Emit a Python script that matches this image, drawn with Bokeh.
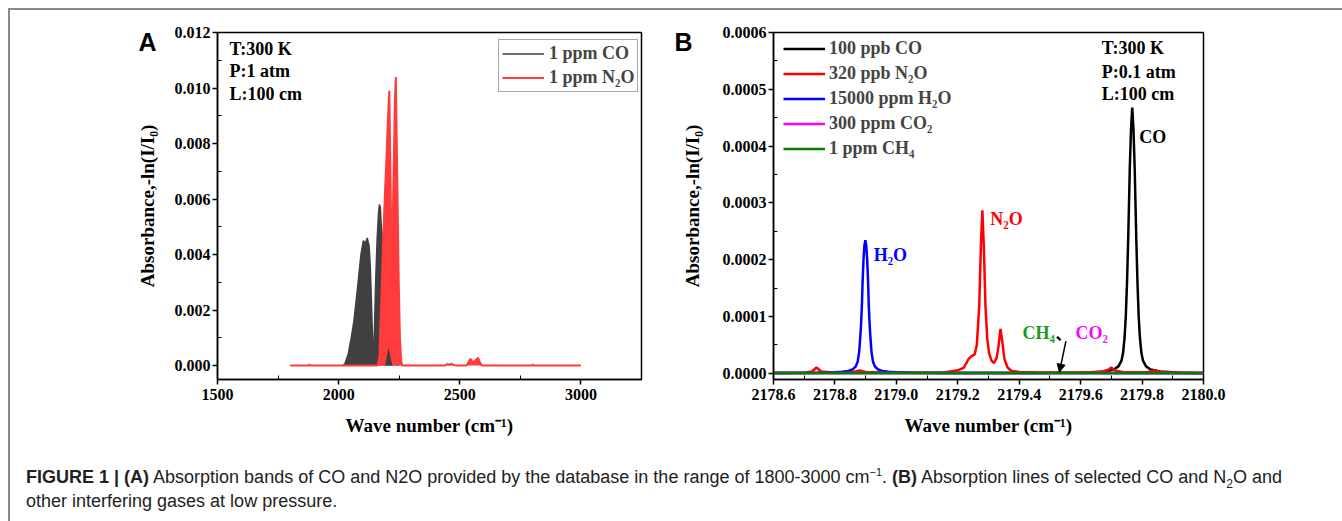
from bokeh.plotting import figure
from bokeh.models import (Range1d, FixedTicker, PrintfTickFormatter, Label, Legend,
                          LegendItem, Arrow, NormalHead, Div, ColumnDataSource, LinearAxis)
from bokeh.layouts import row, column
from bokeh.embed import file_html
from bokeh.resources import INLINE

# ---------------- Panel A data ----------------
a_co_x = [2015, 2025, 2040, 2052, 2063, 2078, 2092, 2102, 2110, 2118, 2126, 2131, 2135, 2140,
          2144, 2147, 2152, 2159, 2164, 2168, 2172, 2176, 2181, 2186, 2190, 2196, 2202, 2210,
          2218, 2228, 2238, 2248]
a_co_y = [0, 0.00005, 0.00043, 0.0010, 0.0016, 0.0028, 0.0040, 0.0045, 0.0044, 0.0046, 0.0043,
          0.0035, 0.0024, 0.0010, 0.0001, 0.0010, 0.0028, 0.0046, 0.0054, 0.0058, 0.0057, 0.0050,
          0.0046, 0.0040, 0.0030, 0.0020, 0.0012, 0.0007, 0.0004, 0.0002, 0.00005, 0]
a_co_hot_x = [2192, 2200, 2206, 2212, 2222]
a_co_hot_y = [0, 0.0004, 0.00066, 0.0004, 0]
a_n2o_x = [1800, 1878, 1880, 1882, 2160, 2168, 2173, 2178, 2184, 2192, 2198, 2203, 2209, 2213,
           2216, 2220, 2224, 2228, 2232, 2236, 2240, 2244, 2248, 2253, 2258, 2262, 2438, 2448,
           2456, 2466, 2476, 2486, 2528, 2544, 2552, 2560, 2576, 2584, 2592, 2798, 2800, 2802, 3000]
a_n2o_y = [0, 0, 0.00006, 0, 0, 0.0003, 0.0016, 0.0028, 0.0046, 0.0064, 0.0076, 0.0088, 0.0099,
           0.0075, 0.0055, 0.0040, 0.0055, 0.0075, 0.0095, 0.0104, 0.0080, 0.0055, 0.0030, 0.0010,
           0.0002, 0, 0, 0.00006, 0.00003, 0.00007, 0.00002, 0, 0, 0.00025, 0.00012, 0.00015,
           0.00028, 0.0001, 0, 0, 0.00006, 0, 0]
a_xticks = [1500, 2000, 2500, 3000]
a_xminor = [1750, 2250, 2750, 3250]
a_yticks = [0.000, 0.002, 0.004, 0.006, 0.008, 0.010, 0.012]
a_yminor = [0.001, 0.003, 0.005, 0.007, 0.009, 0.011]
a_labels = ["1 ppm CO", "1 ppm N\u2082O"]
a_conditions = ["T:300 K", "P:1 atm", "L:100 cm"]

# ---------------- Panel B data (absorbance in units of 1e-6) ----------------
b_co_x = [2178.600, 2179.200, 2179.468, 2179.618, 2179.678, 2179.708, 2179.723, 2179.733,
          2179.738, 2179.743, 2179.747, 2179.751, 2179.755, 2179.760, 2179.764, 2179.768,
          2179.772, 2179.776, 2179.781, 2179.785, 2179.789, 2179.793, 2179.798, 2179.803,
          2179.813, 2179.828, 2179.858, 2179.918, 2180.000]
b_co_u = [0.15, 0.2, 0.4, 1.3, 3, 6.5, 12, 22, 35, 62, 100, 160, 240, 360, 430, 468,
          430, 360, 240, 160, 100, 62, 35, 22, 12, 6.5, 3, 1.3, 0.5]
b_n2o_x = [2178.600, 2178.700, 2178.725, 2178.740, 2178.755, 2178.800, 2178.860, 2178.880,
           2178.900, 2179.000, 2179.100, 2179.150, 2179.200, 2179.220, 2179.235, 2179.245,
           2179.255, 2179.262, 2179.270, 2179.275, 2179.280, 2179.285, 2179.290, 2179.296,
           2179.302, 2179.310, 2179.318, 2179.326, 2179.332, 2179.339, 2179.345, 2179.352,
           2179.362, 2179.375, 2179.400, 2179.450, 2179.550, 2179.660, 2179.690, 2179.700,
           2179.710, 2179.740, 2179.820, 2179.840, 2179.860, 2179.950, 2180.000]
b_n2o_u = [0.5, 1, 3, 10, 3, 1, 2, 5, 2, 1, 1, 1, 5, 10, 25, 30, 33, 50, 120, 220, 287, 220,
           120, 60, 35, 22, 18, 26, 45, 78, 55, 25, 10, 4, 2, 1.5, 0.8, 1.5, 6, 10, 5, 1.5, 2,
           5, 2, 0.5, 0.3]
b_h2o_x = [2178.600, 2178.649, 2178.749, 2178.799, 2178.824, 2178.844, 2178.859, 2178.868,
           2178.874, 2178.879, 2178.882, 2178.885, 2178.888, 2178.890, 2178.893, 2178.896,
           2178.899, 2178.902, 2178.905, 2178.908, 2178.910, 2178.913, 2178.916, 2178.919,
           2178.924, 2178.930, 2178.939, 2178.954, 2178.974, 2178.999, 2179.049, 2179.149,
           2179.400, 2180.000]
b_h2o_u = [0.2, 0.3, 0.8, 1.5, 2.5, 4, 7, 12, 20, 38, 60, 85, 122, 160, 200, 225, 234,
           225, 200, 160, 122, 85, 60, 38, 20, 12, 7, 4, 2.5, 1.5, 0.8, 0.3, 0.15, 0.05]
b_co2_x = [2178.6, 2179.0, 2179.4, 2179.8, 2180.0]
b_co2_u = [0.3, 0.4, 0.5, 0.4, 0.3]
b_ch4_x = [2178.6, 2179.0, 2179.4, 2179.8, 2180.0]
b_ch4_u = [0.2, 0.2, 0.3, 0.2, 0.2]
b_xticks = [2178.6, 2178.8, 2179.0, 2179.2, 2179.4, 2179.6, 2179.8, 2180.0]
b_xminor = [2178.7, 2178.9, 2179.1, 2179.3, 2179.5, 2179.7, 2179.9]
b_yticks = [0.0, 0.0001, 0.0002, 0.0003, 0.0004, 0.0005, 0.0006]
b_yminor = [0.00005, 0.00015, 0.00025, 0.00035, 0.00045, 0.00055]
b_labels = ["100 ppb CO", "320 ppb N\u2082O", "15000 ppm H\u2082O", "300 ppm CO\u2082", "1 ppm CH\u2084"]
b_conditions = ["T:300 K", "P:0.1 atm", "L:100 cm"]
UNIT = 1e-6

SERIF = "Liberation Serif"
SANS = "Liberation Sans"


def style(p, xt, xm, yt, ym, xfmt, yfmt, ylab_standoff):
    p.xaxis.ticker = FixedTicker(ticks=xt, minor_ticks=xm)
    p.yaxis.ticker = FixedTicker(ticks=yt, minor_ticks=ym)
    p.xaxis.formatter = PrintfTickFormatter(format=xfmt)
    p.yaxis.formatter = PrintfTickFormatter(format=yfmt)
    for ax in (p.xaxis[0], p.yaxis[0]):
        ax.axis_line_width = 1.5
        ax.axis_line_color = "black"
        ax.major_tick_line_width = 1.5
        ax.major_tick_line_color = "black"
        ax.minor_tick_line_color = "black"
        ax.minor_tick_line_width = 1
        ax.major_tick_out = 5
        ax.major_tick_in = 0
        ax.minor_tick_out = 0
        ax.minor_tick_in = 4
        ax.major_label_text_font = SERIF
        ax.major_label_text_font_style = "bold"
        ax.major_label_text_font_size = "16px"
        ax.major_label_text_color = "black"
        ax.major_label_standoff = 2
        ax.axis_label_text_font = SERIF
        ax.axis_label_text_font_style = "bold"
        ax.axis_label_text_font_size = "19px"
        ax.axis_label_text_color = "black"
    p.xaxis.major_label_standoff = 4
    p.xaxis.axis_label_standoff = 12
    p.yaxis.axis_label_standoff = ylab_standoff
    p.xaxis.axis_label = "Wave number (cm\u207b\u00b9)"
    p.yaxis.axis_label = "Absorbance,-ln(I/I\u2080)"
    p.xgrid.visible = False
    p.ygrid.visible = False
    p.outline_line_color = "black"
    p.outline_line_width = 1.5
    p.outline_line_alpha = 1


def panel_letter(p, yval, letter, standoff):
    # a bare extra axis whose only tick label is the panel letter
    ax = LinearAxis(ticker=FixedTicker(ticks=[yval], minor_ticks=[]),
                    formatter=PrintfTickFormatter(format=letter),
                    axis_line_color=None, major_tick_line_color=None,
                    minor_tick_line_color=None, major_tick_out=0, major_tick_in=0,
                    minor_tick_out=0, minor_tick_in=0, major_label_standoff=standoff,
                    major_label_text_font=SANS, major_label_text_font_style="bold",
                    major_label_text_font_size="25px", major_label_text_color="black")
    p.add_layout(ax, "left")


def txt(x, y, text, color="black", size="18px", font=SERIF, align="left"):
    return Label(x=x, y=y, text=text, text_font=font, text_font_style="bold",
                 text_font_size=size, text_color=color, text_baseline="middle",
                 text_align=align)


# ---------------- Panel A ----------------
pa = figure(width=660, height=435, min_border_left=207, min_border_right=29,
            min_border_top=22, min_border_bottom=66,
            x_range=Range1d(1500, 3250), y_range=Range1d(-0.0005, 0.012),
            output_backend="svg", toolbar_location=None)
style(pa, a_xticks, a_xminor, a_yticks, a_yminor, "%d", "%.3f", 14)

GRAY = "#404040"
RED = "#ff3b3b"
src_co = ColumnDataSource(dict(x=a_co_x, y=a_co_y))
src_n2o = ColumnDataSource(dict(x=a_n2o_x, y=a_n2o_y))
src_hot = ColumnDataSource(dict(x=a_co_hot_x, y=a_co_hot_y))
pa.varea(x="x", y1=0, y2="y", source=src_co, fill_color=GRAY)
r_co = pa.line(x="x", y="y", source=src_co, line_color=GRAY, line_width=1.5)
pa.varea(x="x", y1=0, y2="y", source=src_n2o, fill_color=RED)
r_n2o = pa.line(x="x", y="y", source=src_n2o, line_color=RED, line_width=2)
pa.varea(x="x", y1=0, y2="y", source=src_hot, fill_color=GRAY)

leg_a = Legend(items=[LegendItem(label=a_labels[0], renderers=[r_co]),
                      LegendItem(label=a_labels[1], renderers=[r_n2o])],
               location=(281, 287), glyph_width=42, glyph_height=21, label_height=21,
               spacing=3, padding=3, margin=0, label_standoff=5,
               label_text_font=SERIF, label_text_font_style="bold",
               label_text_font_size="18px", border_line_color="#505050",
               border_line_width=1.5, background_fill_alpha=1)
pa.add_layout(leg_a)

for cond, yv in zip(a_conditions, [0.011423, 0.010598, 0.009802]):
    pa.add_layout(txt(1549.5, yv, cond))
panel_letter(pa, 0.011661, "A", -23)

# ---------------- Panel B ----------------
pb = figure(width=664, height=435, min_border_left=103, min_border_right=131,
            min_border_top=22, min_border_bottom=66,
            x_range=Range1d(2178.6, 2180.0), y_range=Range1d(-0.0000111, 0.0006),
            output_backend="svg", toolbar_location=None)
style(pb, b_xticks, b_xminor, b_yticks, b_yminor, "%.1f", "%.4f", 17)

series = [(b_co_x, b_co_u, "black"), (b_n2o_x, b_n2o_u, "#ff0000"),
          (b_h2o_x, b_h2o_u, "#0000ff"), (b_co2_x, b_co2_u, "#ff00ff"),
          (b_ch4_x, b_ch4_u, "#008000")]
items = []
for (xs, us, col), lab in zip(series, b_labels):
    s = ColumnDataSource(dict(x=xs, y=[u * UNIT for u in us]))
    r = pb.line(x="x", y="y", source=s, line_color=col, line_width=2.5)
    items.append(LegendItem(label=lab, renderers=[r]))

leg_b = Legend(items=items, location=(10, 219), glyph_width=42, glyph_height=23,
               label_height=23, spacing=2, padding=0, margin=0, label_standoff=4,
               label_text_font=SERIF, label_text_font_style="bold",
               label_text_font_size="18px", border_line_alpha=0,
               background_fill_alpha=0)
pb.add_layout(leg_b)

for cond, yv in zip(b_conditions, [0.000572, 0.000531, 0.000491]):
    pb.add_layout(txt(2179.669, yv, cond))
pb.add_layout(txt(2179.791, 0.0004168, "CO"))
pb.add_layout(txt(2179.306, 0.000271, "N\u2082O", color="#ff0000"))
pb.add_layout(txt(2178.926, 0.0002075, "H\u2082O", color="#0000ff"))
pb.add_layout(txt(2179.411, 0.0000705, "CH\u2084", color="#1a9a1a"))
pb.add_layout(txt(2179.518, 0.0000705, "\u3001", font="Noto Sans CJK SC", size="16px"))
pb.add_layout(txt(2179.583, 0.0000705, "CO\u2082", color="#ff00ff"))
pb.add_layout(Arrow(x_start=2179.552, y_start=0.0000564, x_end=2179.531, y_end=0.0000018,
                    line_width=1.5, line_color="black",
                    end=NormalHead(size=8, fill_color="black", line_color="black")))
panel_letter(pb, 0.0005836, "B", -14)

# ---------------- Caption ----------------
cap = Div(width=1324, height=68, text=(
    '<div style="font-family:\'Liberation Sans\',Arial,sans-serif;font-size:18px;'
    'line-height:24px;color:#222;padding:15px 0 0 11px;white-space:nowrap;">'
    '<b>FIGURE 1 | (A)</b> Absorption bands of CO and N2O provided by the database in the '
    'range of 1800-3000 cm<sup style="font-size:11px;line-height:0">\u22121</sup>. <b>(B)</b> '
    'Absorption lines of selected CO and N<sub style="font-size:12px;line-height:0">2</sub>O '
    'and<br>other interfering gases at low pressure.</div>'))

layout = column(row(pa, pb), cap, margin=(8, 0, 0, 8),
                styles={"border-left": "2px solid #8a8a8a", "border-top": "2px solid #8a8a8a"})

open("out.html", "w").write(file_html(layout, INLINE))
